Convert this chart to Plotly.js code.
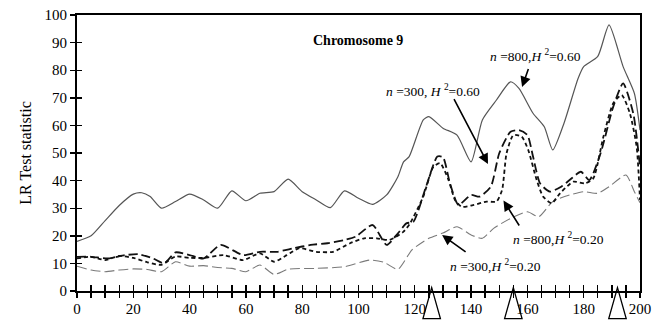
<!DOCTYPE html>
<html>
<head>
<meta charset="utf-8">
<script src="https://cdn.plot.ly/plotly-3.0.1.min.js"></script>
<style>html,body{margin:0;padding:0;background:#fff;}#chart{width:661px;height:322px;}</style>
</head>
<body>
<div id="chart"></div>
<script>
// n=800, H2=0.60 (solid)
const x800h60 = [0,5,10,15,20,23,26,30,35,40,45,50,55,60,65,70,75,80,85,90,95,100,105,110,114,116,118,123,125,130,135,140,144,149,154,157,162,166,169,173,178,180,185,189,194,198,200];
const y800h60 = [18,20,25.5,31,35.1,35.6,34.2,30,32.4,35.1,33,30,36.3,32.7,35.4,36,40.5,36,33,30.2,36.3,33.6,31.4,34.8,41.4,46.8,48.7,62,63.2,59,56.5,46.8,62,69.2,75.8,73.4,64.4,59.5,51.1,60.8,77,81.3,85,96.4,81.3,71.6,58.3];
// n=300, H2=0.60 (long dash)
const x300h60 = [0,5,11,17,22,27,31,35,40,45,51,59,65,71,77,83,89,95,99,105,110,114,117,119.5,124,128,130,132.5,135.5,140,143,147,150,154,157,160,162,164.5,168,172,175,179,182,186,190.5,194,197.6,200];
const y300h60 = [12.4,12.4,11.8,13,13.3,11.8,10,14,13,11.8,16.7,13,14.2,14.2,15.5,16.7,17.3,18.5,19.7,23.9,16.7,20.9,24.5,25.1,37.8,48.7,48.5,39,31.2,34.8,34.2,37.8,49.9,57.7,58.3,56.5,48.7,39,36,37.8,40.2,43.2,40.2,49.9,66.8,75.2,64.4,45];
// n=800, H2=0.20 (short dash)
const x800h20 = [0,5,10,15,20,25,30,35,40,45,52,59,65,70,74.5,79,85,91,97,102,106.5,111,116,118.3,123,126.6,129,132,134.3,136.7,141,145.5,149,151,152.6,155,158,160.3,163.3,165.6,168.6,171.6,176.3,180.5,183.4,187,190.5,193.5,196.4,198.8,200];
const y800h20 = [11.8,12.4,11.2,12.7,12,10.4,9.5,12.5,12,12,13,11.2,13.6,10.6,13,15.5,14.2,14.2,17.3,19.1,19.1,18.5,21.5,24.5,34.2,45,46.3,40.2,33,30.5,31.2,32.4,32.4,36.6,49.9,56.5,55.9,51.1,40.2,34.2,31.8,35.4,39.6,39,40.8,55.9,68,71,64.4,52.3,33];
// n=300, H2=0.20 (gray dash)
const x300h20 = [0,5,10,15,20,25,30,35,40,45,50,55,60,65,70,75,85,95,104,109,114,119,125,130,135,140,144,148,154,160,164,169,175,180,185,189,195,198,200];
const y300h20 = [9,7.6,7,7.6,8,7.8,7,10.6,9,9.2,8.5,8.2,7,9.4,6,7.9,8.2,8.8,11.2,10.4,7.9,14.9,19.1,21,23.3,20.3,19.1,22.7,26.3,28.7,26.9,32.4,34.8,36,35.4,37.8,42,36,32];

const qtlPositions = [126, 155, 192];
const yTicks = [0,10,20,30,40,50,60,70,80,90,100];
const xTicks = [0,20,40,60,80,100,120,140,160,180,200];

const labels = [
  {text:'<b>Chromosome 9</b>', x:99.8, y:90.6},
  {text:'<i>n</i> =800,<i>H</i> <sup>2</sup>=0.60', x:162.7, y:85.5},
  {text:'<i>n</i> =300, <i>H</i> <sup>2</sup>=0.60', x:126.5, y:72.8},
  {text:'<i>n</i> =800,<i>H</i> <sup>2</sup>=0.20', x:171.2, y:19.2},
  {text:'<i>n</i> =300,<i>H</i> <sup>2</sup>=0.20', x:148.5, y:9.4}
];
// arrow heads (data) and tail offsets (px)
const arrowX = [158.1, 146.0, 151.5, 129.7];
const arrowY = [73.9, 46.0, 32.8, 20.3];
const arrowAX = [7, -35, 17, 25];
const arrowAY = [-20, -67, 27, 18];

const serif = 'Liberation Serif, Times New Roman, serif';

const traces = [
  {x:x800h60, y:y800h60, mode:'lines', line:{color:'#555', width:1.2, shape:'spline', smoothing:0.6}, name:'n=800,H2=0.60'},
  {x:x300h20, y:y300h20, mode:'lines', line:{color:'#7a7a7a', width:1.1, dash:'10px,4px', shape:'spline', smoothing:0.6}, name:'n=300,H2=0.20'},
  {x:x800h20, y:y800h20, mode:'lines', line:{color:'#111', width:1.8, dash:'4px,3px', shape:'spline', smoothing:0.6}, name:'n=800,H2=0.20'},
  {x:x300h60, y:y300h60, mode:'lines', line:{color:'#111', width:1.8, dash:'9px,4px', shape:'spline', smoothing:0.6}, name:'n=300,H2=0.60'},
  {x:[null], y:[null], xaxis:'x2', yaxis:'y2', mode:'lines', hoverinfo:'skip', showlegend:false}
];

const annotations = labels.map(l => ({
  text:l.text, x:l.x, y:l.y, xref:'x', yref:'y', showarrow:false,
  font:{family:serif, size:13.5, color:'#000'}
}));
annotations[0].font = {family:serif, size:14, color:'#000'};
for (let i = 0; i < arrowX.length; i++) {
  annotations.push({text:' ', x:arrowX[i], y:arrowY[i], xref:'x', yref:'y',
    showarrow:true, ax:arrowAX[i], ay:arrowAY[i], arrowhead:2, arrowsize:1.3,
    arrowwidth:1.6, arrowcolor:'#000', standoff:0, font:{size:1}});
}

const shapes = qtlPositions.map(p => ({
  type:'path', xref:'x', yref:'paper',
  path:'M' + p + ',0.012 L' + (p + 3.1) + ',-0.1 L' + (p - 3.1) + ',-0.1 Z',
  line:{color:'#000', width:1.3}, fillcolor:'rgba(0,0,0,0)', layer:'above'
}));

const layout = {
  width:661, height:322,
  margin:{l:77, r:21, t:15, b:31, pad:0},
  paper_bgcolor:'#fff', plot_bgcolor:'#fff',
  showlegend:false,
  font:{family:serif, color:'#000'},
  xaxis:{range:[0,200], tickvals:xTicks, ticks:'inside', ticklen:6, tickwidth:1.4, tickcolor:'#000',
    minor:{dtick:5, tick0:0, ticks:'inside', ticklen:6, tickwidth:1.4, tickcolor:'#000', showgrid:false},
    showline:true, linewidth:2, linecolor:'#000', mirror:true, showgrid:false, zeroline:false,
    ticklabelstandoff:3,
    tickfont:{family:serif, size:15, color:'#000'}},
  xaxis2:{range:[0,200], overlaying:'x', anchor:'y', side:'bottom', dtick:5, tick0:0, ticks:'outside', ticklen:6,
    tickwidth:1.4, tickcolor:'#000', showticklabels:false, showline:false, showgrid:false, zeroline:false},
  yaxis:{range:[0,100], tickvals:yTicks, ticks:'outside', ticklen:5, tickwidth:1.4, tickcolor:'#000',
    showline:true, linewidth:2, linecolor:'#000', mirror:true, showgrid:false, zeroline:false,
    tickfont:{family:serif, size:15, color:'#000'},
    title:{text:'LR Test statistic', font:{family:serif, size:16, color:'#000'}, standoff:9}},
  yaxis2:{range:[0,100], overlaying:'y', anchor:'x', side:'left', tickvals:yTicks, ticks:'inside', ticklen:5,
    tickwidth:1.4, tickcolor:'#000', showticklabels:false, showline:false, showgrid:false, zeroline:false},
  annotations:annotations,
  shapes:shapes
};

Plotly.newPlot('chart', traces, layout, {staticPlot:true, displayModeBar:false});
</script>
</body>
</html>
